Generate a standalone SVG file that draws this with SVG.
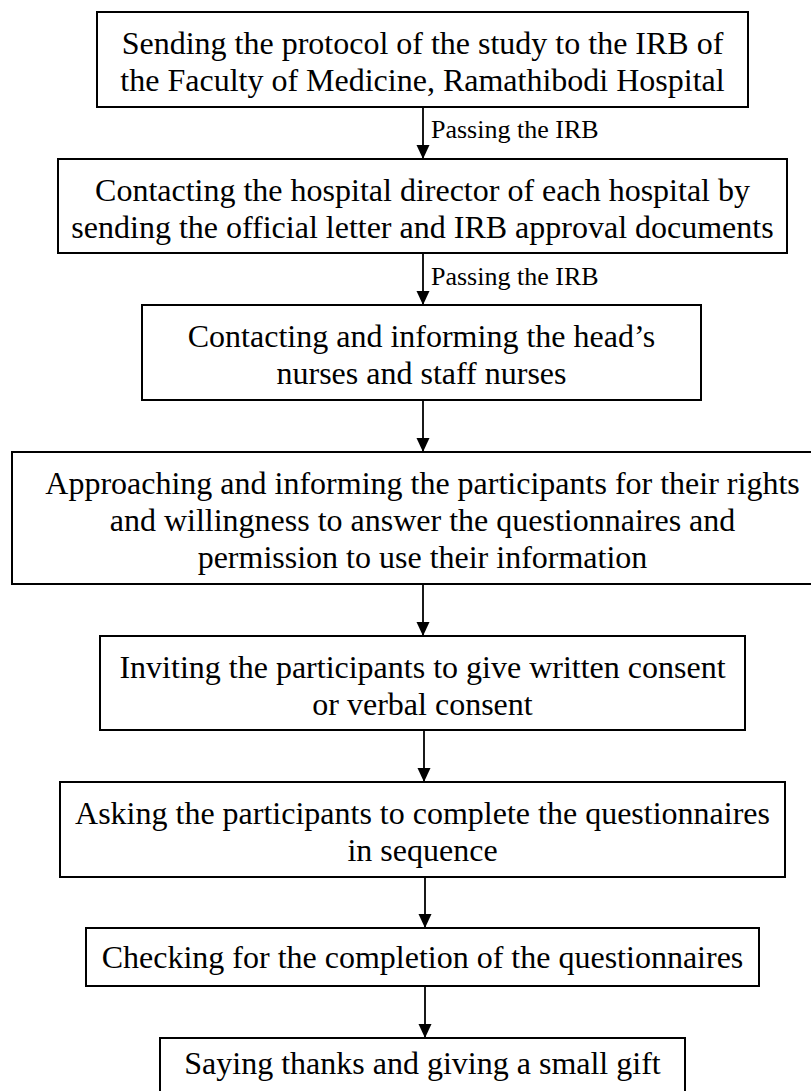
<svg xmlns="http://www.w3.org/2000/svg" width="811" height="1091" viewBox="0 0 811 1091">
  <defs>
    <marker id="arrowhead" viewBox="0 0 14 14" refX="14" refY="7" markerWidth="14" markerHeight="14" markerUnits="userSpaceOnUse" orient="auto">
      <path d="M0,0.5 L14,7 L0,13.5 Z" fill="#000"/>
    </marker>
    <style>
      .box { fill: #fff; stroke: #000; stroke-width: 2; }
      .txt { font-family: "Liberation Serif", "Times New Roman", serif; font-size: 32px; fill: #000; text-anchor: middle; }
      .lbl { font-family: "Liberation Serif", "Times New Roman", serif; font-size: 26px; fill: #000; }
      .conn { stroke: #000; stroke-width: 1.8; fill: none; }
    </style>
  </defs>
  <rect width="811" height="1091" fill="#fff"/>

  <!-- flow arrows between the steps -->
  <g id="connectors">
    <line class="conn" x1="423" y1="107" x2="423" y2="159" marker-end="url(#arrowhead)"/>
    <text class="lbl" x="431" y="138">Passing the IRB</text>
    <line class="conn" x1="423" y1="253" x2="423" y2="305" marker-end="url(#arrowhead)"/>
    <text class="lbl" x="431" y="285">Passing the IRB</text>
    <line class="conn" x1="423" y1="400" x2="423" y2="452" marker-end="url(#arrowhead)"/>
    <line class="conn" x1="423" y1="584" x2="423" y2="636" marker-end="url(#arrowhead)"/>
    <line class="conn" x1="424" y1="730" x2="424" y2="782" marker-end="url(#arrowhead)"/>
    <line class="conn" x1="425" y1="877" x2="425" y2="928" marker-end="url(#arrowhead)"/>
    <line class="conn" x1="425" y1="986" x2="425" y2="1038" marker-end="url(#arrowhead)"/>
  </g>

  <g id="node1">
    <rect class="box" x="97" y="12" width="651" height="95"/>
    <text class="txt" x="422.5" y="54">Sending the protocol of the study to the IRB of</text>
    <text class="txt" x="422.5" y="91">the Faculty of Medicine, Ramathibodi Hospital</text>
  </g>
  <g id="node2">
    <rect class="box" x="58" y="159" width="729" height="94"/>
    <text class="txt" x="422.5" y="201">Contacting the hospital director of each hospital by</text>
    <text class="txt" x="422.5" y="238">sending the official letter and IRB approval documents</text>
  </g>
  <g id="node3">
    <rect class="box" x="142" y="305" width="559" height="95"/>
    <text class="txt" x="421.5" y="347">Contacting and informing the head’s</text>
    <text class="txt" x="421.5" y="384">nurses and staff nurses</text>
  </g>
  <g id="node4">
    <rect class="box" x="12" y="452" width="821" height="132"/>
    <text class="txt" x="422.5" y="494">Approaching and informing the participants for their rights</text>
    <text class="txt" x="422.5" y="531">and willingness to answer the questionnaires and</text>
    <text class="txt" x="422.5" y="568">permission to use their information</text>
  </g>
  <g id="node5">
    <rect class="box" x="100" y="636" width="645" height="94"/>
    <text class="txt" x="422.5" y="678">Inviting the participants to give written consent</text>
    <text class="txt" x="422.5" y="715">or verbal consent</text>
  </g>
  <g id="node6">
    <rect class="box" x="60" y="782" width="725" height="95"/>
    <text class="txt" x="422.5" y="824">Asking the participants to complete the questionnaires</text>
    <text class="txt" x="422.5" y="861">in sequence</text>
  </g>
  <g id="node7">
    <rect class="box" x="86" y="928" width="673" height="58"/>
    <text class="txt" x="422.5" y="968">Checking for the completion of the questionnaires</text>
  </g>
  <g id="node8">
    <rect class="box" x="160" y="1038" width="525" height="70"/>
    <text class="txt" x="422.5" y="1074">Saying thanks and giving a small gift</text>
  </g>
</svg>
